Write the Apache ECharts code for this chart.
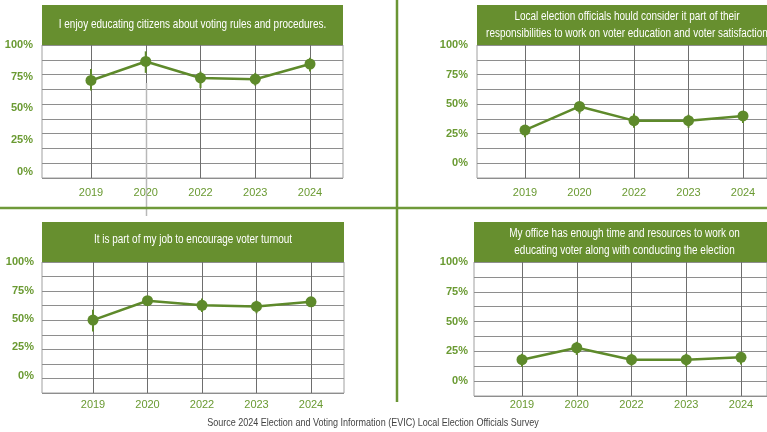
<!DOCTYPE html>
<html>
<head>
<meta charset="utf-8">
<script src="https://cdn.jsdelivr.net/npm/echarts@6/dist/echarts.min.js"></script>
<style>
  html, body { margin: 0; padding: 0; background: #ffffff; }
  #chart { width: 767px; height: 432px; }
</style>
</head>
<body>
<div id="chart"></div>
<script>
// Survey years shared by all four panels
const years = ['2019', '2020', '2022', '2023', '2024'];
const percentTicks = [0, 25, 50, 75, 100];

// Panel titles
const titleEnjoy = 'I enjoy educating citizens about voting rules and procedures.';
const titleResponsibility = 'Local election officials hould consider it part of their\nresponsibilities to work on voter education and voter satisfaction';
const titleTurnout = 'It is part of my job to encourage voter turnout';
const titleResources = 'My office has enough time and resources to work on\neducating voter along with conducting the election';

// Share agreeing (%), with the low/high ends of each range
const enjoyValues = [72, 87, 74, 73, 85];
const enjoyLow = [64, 78, 66, 68, 79];
const enjoyHigh = [81, 95, 79, 78, 90];

const responsibilityValues = [28, 48, 36, 36, 40];
const responsibilityLow = [22, 42, 30, 30, 34];
const responsibilityHigh = [32, 52, 42, 41, 44];

const turnoutValues = [49, 66, 62, 61, 65];
const turnoutLow = [39, 63, 56, 55, 62];
const turnoutHigh = [58, 69, 68, 66, 67];

const resourcesValues = [18, 28, 18, 18, 20];
const resourcesLow = [12, 22, 13, 12, 14];
const resourcesHigh = [23, 33, 23, 23, 24];

const source = 'Source 2024 Election and Voting Information (EVIC) Local Election Officials Survey';

const FONT = "'Liberation Sans Narrow', 'Arial Narrow', 'Liberation Sans', Arial, sans-serif";
const NARROW = 0.83; // horizontal squeeze for banner and note text
const GREEN_LINE = '#5e8a2b';
const GREEN_BOX = '#678f2f';
const GREEN_TEXT = '#6a9a32';
const GREEN_RULE = '#6f9a3a';
const GRID_GRAY = '#8e8e8e';

// Layout of each panel: frame box, plotting span and title box
const panels = [
  { title: titleEnjoy, values: enjoyValues, low: enjoyLow, high: enjoyHigh,
    frame: { left: 42, top: 45, width: 301, height: 133 }, plotLeft: 91, plotWidth: 219,
    yMin: -5, yInterval: 5, labelMargin: 58, xLabelMargin: 9,
    box: { x: 42, y: 5, width: 301, height: 40 }, titleX: 192.5, titleY: 25 },
  { title: titleResponsibility, values: responsibilityValues, low: responsibilityLow, high: responsibilityHigh,
    frame: { left: 477, top: 45, width: 290, height: 133 }, plotLeft: 525, plotWidth: 218,
    yMin: -12.5, yInterval: 12.5, labelMargin: 57, xLabelMargin: 9,
    box: { x: 477, y: 5, width: 300, height: 40 }, titleX: 627, titleY: 25 },
  { title: titleTurnout, values: turnoutValues, low: turnoutLow, high: turnoutHigh,
    frame: { left: 42, top: 262, width: 302, height: 131 }, plotLeft: 93, plotWidth: 218,
    yMin: -15, yInterval: 5, labelMargin: 59, xLabelMargin: 6,
    box: { x: 42, y: 222, width: 302, height: 40 }, titleX: 193, titleY: 240 },
  { title: titleResources, values: resourcesValues, low: resourcesLow, high: resourcesHigh,
    frame: { left: 474, top: 262, width: 293, height: 134 }, plotLeft: 522, plotWidth: 219,
    yMin: -12.5, yInterval: 12.5, labelMargin: 54, xLabelMargin: 3,
    box: { x: 474, y: 222, width: 300, height: 40 }, titleX: 624.5, titleY: 242 }
];

const grid = [], xAxis = [], yAxis = [], series = [], graphic = [];

function rangeBar(params, api) {
  const lo = api.coord([api.value(0), api.value(1)]);
  const hi = api.coord([api.value(0), api.value(2)]);
  return {
    type: 'line',
    shape: { x1: lo[0], y1: lo[1], x2: hi[0], y2: hi[1] },
    style: { stroke: GREEN_LINE, lineWidth: 2 }
  };
}

panels.forEach(function (p) {
  const frameIdx = grid.length;
  // Frame with nine horizontal rows
  grid.push({ left: p.frame.left, top: p.frame.top, width: p.frame.width, height: p.frame.height,
    show: true, borderColor: '#a0a0a0', borderWidth: 1, backgroundColor: 'transparent' });
  xAxis.push({ gridIndex: frameIdx, type: 'value', min: 0, max: 1, show: false });
  yAxis.push({ gridIndex: frameIdx, type: 'value', min: 0, max: 9, interval: 1,
    axisLine: { show: false }, axisTick: { show: false }, axisLabel: { show: false },
    splitLine: { show: true, lineStyle: { color: GRID_GRAY, width: 1 } } });

  // Data area spanning the first to the last survey year
  const plotIdx = grid.length;
  grid.push({ left: p.plotLeft, top: p.frame.top, width: p.plotWidth, height: p.frame.height, show: false });
  xAxis.push({ gridIndex: plotIdx, type: 'category', data: years, boundaryGap: false,
    axisLine: { show: false }, axisTick: { show: false },
    axisLabel: { interval: 0, color: GREEN_TEXT, fontFamily: FONT, fontSize: 11, margin: p.xLabelMargin },
    splitLine: { show: true, interval: 0, lineStyle: { color: '#6e6e6e', width: 1 } } });
  yAxis.push({ gridIndex: plotIdx, type: 'value', min: p.yMin, max: 100, interval: p.yInterval,
    axisLine: { show: false }, axisTick: { show: false }, splitLine: { show: false },
    axisLabel: { color: GREEN_TEXT, fontFamily: FONT, fontSize: 11, fontWeight: 'bold', margin: p.labelMargin,
      formatter: function (v) { return percentTicks.indexOf(v) >= 0 ? v + '%' : ''; } } });

  series.push({ type: 'custom', xAxisIndex: plotIdx, yAxisIndex: plotIdx, renderItem: rangeBar,
    data: years.map(function (y, i) { return [i, p.low[i], p.high[i]]; }), silent: true, z: 3 });
  series.push({ type: 'line', xAxisIndex: plotIdx, yAxisIndex: plotIdx, data: p.values,
    symbol: 'circle', symbolSize: 11, showSymbol: true, silent: true, z: 4,
    lineStyle: { color: GREEN_LINE, width: 2.5 }, itemStyle: { color: GREEN_LINE } });

  // Title banner
  graphic.push({ type: 'rect', z: 20, shape: { x: p.box.x, y: p.box.y, width: p.box.width, height: p.box.height },
    style: { fill: GREEN_BOX } });
  graphic.push({ type: 'text', z: 21, x: p.titleX, y: p.titleY, scaleX: NARROW,
    style: { text: p.title, fill: '#ffffff', font: '12px ' + FONT, align: 'center', verticalAlign: 'middle', lineHeight: 17 } });
});

// Dividers between the four panels
graphic.push({ type: 'line', z: 15, shape: { x1: 0, y1: 208, x2: 767, y2: 208 }, style: { stroke: GREEN_RULE, lineWidth: 2.5 } });
graphic.push({ type: 'line', z: 15, shape: { x1: 397, y1: 0, x2: 397, y2: 402 }, style: { stroke: '#6a9534', lineWidth: 2.5 } });
// Stray guide line below the 2020 point
graphic.push({ type: 'line', z: 1, shape: { x1: 146.5, y1: 83, x2: 146.5, y2: 216 }, style: { stroke: '#b8b8b8', lineWidth: 1.5 } });
// Source note
graphic.push({ type: 'text', z: 21, x: 373, y: 423, scaleX: 0.82,
  style: { text: source, fill: '#444444', font: '11px ' + FONT, align: 'center', verticalAlign: 'middle' } });

const chart = echarts.init(document.getElementById('chart'), null, { renderer: 'canvas' });
chart.setOption({
  animation: false,
  backgroundColor: '#ffffff',
  grid: grid, xAxis: xAxis, yAxis: yAxis, series: series, graphic: graphic
});
</script>
</body>
</html>
